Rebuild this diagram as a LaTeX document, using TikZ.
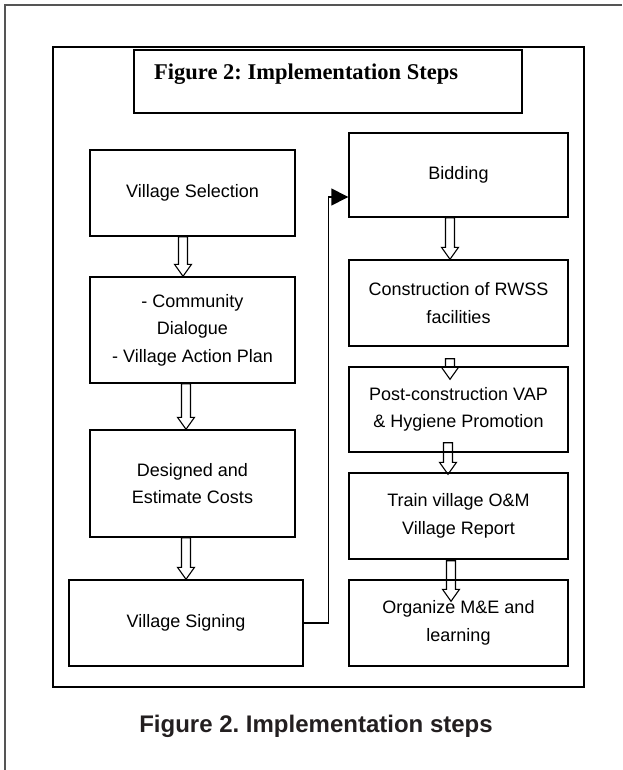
\documentclass[tikz,border=0pt]{standalone}
\usepackage{fontspec}
\setmainfont{Liberation Sans}
\newfontfamily\serifbold{Liberation Serif}[BoldFont={Liberation Serif Bold}]
\usetikzlibrary{calc,arrows.meta}
\frenchspacing

\definecolor{capgray}{HTML}{231F20}
\definecolor{framegray}{HTML}{555555}

\tikzset{
  stepbox/.style={draw=black, line width=1.4pt, rectangle, align=center,
    inner sep=0pt, font=\fontsize{18}{27.5}\selectfont},
  framebox/.style={draw=black, line width=1.4pt, rectangle, inner sep=0pt},
  arrowline/.style={draw=black, line width=1.1pt, line join=miter},
  linkline/.style={draw=black, line width=1.4pt,
    -{Triangle[length=17pt,width=17pt]}},
}

% hollow block arrow: start anchor, end anchor, x offset, y offsets of tail and tip
\newcommand\hollowarrow[5]{%
  \draw[arrowline] let \p1=($(#1)+(#3,#4)$), \p2=($(#2)+(#3,#5)$) in
    (\x1-4.5pt,\y1) -- (\x1-4.5pt,\y2+12pt) -- (\x1-8.5pt,\y2+12pt)
    -- (\x1,\y2) -- (\x1+8.5pt,\y2+12pt) -- (\x1+4.5pt,\y2+12pt)
    -- (\x1+4.5pt,\y1) -- cycle;}

\begin{document}
\begin{tikzpicture}[x=1pt,y=-1pt]
\useasboundingbox (0,0) rectangle (622,770);

% page frame (left and top edges)
\draw[framegray, line width=1.4pt] (5,770) -- (5,5) -- (622,5);

% figure frame and heading
\node[framebox, minimum width=531, minimum height=640] (frame) at (318.5,367) {};
\node[framebox, minimum width=388, minimum height=63] (head) at (328,81.5) {};
\node[anchor=base west, inner sep=0pt, font=\serifbold\bfseries\fontsize{22.5}{26}\selectfont]
  (headtext) at (154,80) {Figure 2: Implementation Steps};

% left column
\node[stepbox, minimum width=205, minimum height=86]  (vs) at (192.5,193)   {Village Selection};
\node[stepbox, minimum width=205, minimum height=106] (cd) at (192.5,330)   {- Community\\Dialogue\\- Village Action Plan};
\node[stepbox, minimum width=205, minimum height=107] (de) at (192.5,483.5) {Designed and\\Estimate Costs};
\node[stepbox, minimum width=234, minimum height=86]  (sg) at (186,623)     {Village Signing};

% right column
\node[stepbox, minimum width=219, minimum height=84] (bd) at (458.5,175)   {Bidding};
\node[stepbox, minimum width=219, minimum height=86] (cr) at (458.5,303)   {Construction of RWSS\\facilities};
\node[stepbox, minimum width=219, minimum height=85] (pc) at (458.5,409.5) {Post-construction VAP\\\& Hygiene Promotion};
\node[stepbox, minimum width=219, minimum height=86] (tr) at (458.5,516)   {Train village O\&M\\Village Report};
\node[stepbox, minimum width=219, minimum height=86] (og) at (458.5,623)   {Organize M\&E and\\learning};

% block arrows between steps
\hollowarrow{vs.south}{cd.north}{-9.5}{0}{0}
\hollowarrow{cd.south}{de.north}{-6.5}{0}{0}
\hollowarrow{de.south}{sg.north}{-6.5}{0}{0}
\hollowarrow{bd.south}{cr.north}{-8.5}{0}{0}
\hollowarrow{cr.south}{pc.north}{-8.5}{12}{13}
\hollowarrow{pc.south}{tr.north}{-10.5}{-10}{2}
\hollowarrow{tr.south}{og.north}{-7.5}{1}{22}

% link from signing to bidding
\coordinate (bdin) at ($(bd.west)+(0,22)$);
\draw[linkline] (sg.east) -- ++(25,0) |- (bdin);

% caption
\node[anchor=base, inner sep=0pt, text=capgray, font=\bfseries\fontsize{24}{28}\selectfont]
  (caption) at (316,732) {Figure 2. Implementation steps};
\end{tikzpicture}
\end{document}
